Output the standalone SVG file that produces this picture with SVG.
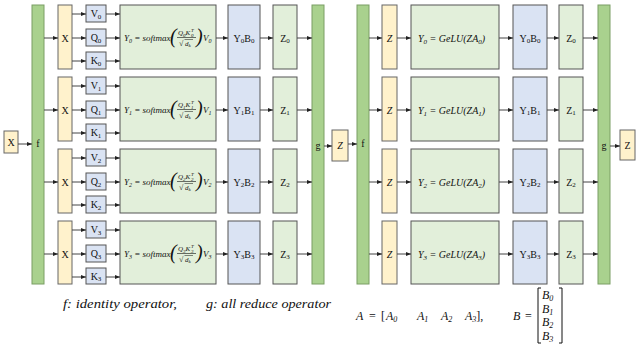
<svg xmlns="http://www.w3.org/2000/svg" width="640" height="348" viewBox="0 0 640 348">
<defs>
<marker id="ah" markerWidth="5" markerHeight="4" refX="5" refY="2" orient="auto" markerUnits="userSpaceOnUse"><path d="M0,0 L5,2 L0,4 z" fill="#222"/></marker>
<style>
.bar{fill:#a9d18e;stroke:#7a9e64;stroke-width:1}
.yel{fill:#fff2cc;stroke:#666;stroke-width:1}
.blu{fill:#dae3f3;stroke:#555;stroke-width:1}
.grn{fill:#e2efda;stroke:#555;stroke-width:1}
.t{font-family:'Liberation Serif','DejaVu Serif',serif;font-size:10px;fill:#111;text-anchor:middle}
.m{font-family:'Liberation Serif','DejaVu Serif',serif;font-style:italic;fill:#111}
.c line{stroke:#444;stroke-width:1;marker-end:url(#ah)}
.s{font-size:7px}
</style>
</defs>
<rect width="640" height="348" fill="#fff"/>

<g id="inX"><rect class="yel" x="4" y="131" width="14" height="22"/><text class="t" x="11" y="145.5">X</text></g>
<g id="f1"><rect class="bar" x="32" y="5" width="12" height="279"/><text class="t" x="38" y="147">f</text></g>
<g id="g1"><rect class="bar" x="312" y="5" width="12" height="279"/><text class="t" x="318" y="149">g</text></g>
<g id="midZ"><rect class="yel" x="332" y="130" width="16" height="31"/><text class="m" x="340" y="149" font-size="10" text-anchor="middle">Z</text></g>
<g id="f2"><rect class="bar" x="357" y="5" width="12" height="279"/><text class="t" x="363" y="147">f</text></g>
<g id="g2"><rect class="bar" x="598" y="5" width="12" height="279"/><text class="t" x="604" y="149">g</text></g>
<g id="outZ"><rect class="yel" x="620" y="130" width="15" height="30"/><text class="t" x="627.5" y="148.5">Z</text></g>

<g id="L0">
<rect class="yel" x="58" y="5" width="14" height="64"/><text class="t" x="65" y="41.5">X</text>
<rect class="blu" x="86" y="5" width="20" height="17"/><text class="t" x="96" y="17">V<tspan class="s" dy="1.5">0</tspan></text>
<rect class="blu" x="86" y="29" width="20" height="17"/><text class="t" x="96" y="41">Q<tspan class="s" dy="1.5">0</tspan></text>
<rect class="blu" x="86" y="52" width="20" height="17"/><text class="t" x="96" y="64">K<tspan class="s" dy="1.5">0</tspan></text>
<rect class="grn" x="120" y="5" width="96" height="64"/>
<text class="m" x="124" y="41" font-size="9">Y<tspan font-size="6" dy="1.5">0</tspan><tspan dy="-1.5"> = softmax</tspan></text>
<text class="m" x="170" y="43" font-size="20" font-style="normal">(</text>
<text class="m" x="178" y="35" font-size="7">Q<tspan font-size="5" dy="1.5">0</tspan><tspan dy="-1.5">K</tspan></text>
<text class="m" x="191" y="36.5" font-size="5">0</text><text class="m" x="191" y="31.5" font-size="5">T</text>
<line x1="177" y1="37.5" x2="196" y2="37.5" stroke="#111" stroke-width="0.6"/>
<text class="m" x="179" y="46" font-size="8" font-style="normal">√</text>
<line x1="184.5" y1="39.5" x2="193" y2="39.5" stroke="#111" stroke-width="0.5"/>
<text class="m" x="185" y="46" font-size="7">d<tspan font-size="5" dy="1">k</tspan></text>
<text class="m" x="196" y="43" font-size="20" font-style="normal">)</text>
<text class="m" x="203" y="41" font-size="9">V<tspan font-size="6" dy="1.5">0</tspan></text>
<rect class="blu" x="228" y="5" width="32" height="64"/><text class="t" x="244" y="41.5">Y<tspan class="s" dy="1.5">0</tspan><tspan dy="-1.5">B</tspan><tspan class="s" dy="1.5">0</tspan></text>
<rect class="grn" x="273" y="5" width="24" height="64"/><text class="t" x="285" y="41.5">Z<tspan class="s" dy="1.5">0</tspan></text>
</g>
<g id="L1">
<rect class="yel" x="58" y="77" width="14" height="64"/><text class="t" x="65" y="113.5">X</text>
<rect class="blu" x="86" y="77" width="20" height="17"/><text class="t" x="96" y="89">V<tspan class="s" dy="1.5">1</tspan></text>
<rect class="blu" x="86" y="101" width="20" height="17"/><text class="t" x="96" y="113">Q<tspan class="s" dy="1.5">1</tspan></text>
<rect class="blu" x="86" y="124" width="20" height="17"/><text class="t" x="96" y="136">K<tspan class="s" dy="1.5">1</tspan></text>
<rect class="grn" x="120" y="77" width="96" height="64"/>
<text class="m" x="124" y="113" font-size="9">Y<tspan font-size="6" dy="1.5">1</tspan><tspan dy="-1.5"> = softmax</tspan></text>
<text class="m" x="170" y="115" font-size="20" font-style="normal">(</text>
<text class="m" x="178" y="107" font-size="7">Q<tspan font-size="5" dy="1.5">1</tspan><tspan dy="-1.5">K</tspan></text>
<text class="m" x="191" y="108.5" font-size="5">1</text><text class="m" x="191" y="103.5" font-size="5">T</text>
<line x1="177" y1="109.5" x2="196" y2="109.5" stroke="#111" stroke-width="0.6"/>
<text class="m" x="179" y="118" font-size="8" font-style="normal">√</text>
<line x1="184.5" y1="111.5" x2="193" y2="111.5" stroke="#111" stroke-width="0.5"/>
<text class="m" x="185" y="118" font-size="7">d<tspan font-size="5" dy="1">k</tspan></text>
<text class="m" x="196" y="115" font-size="20" font-style="normal">)</text>
<text class="m" x="203" y="113" font-size="9">V<tspan font-size="6" dy="1.5">1</tspan></text>
<rect class="blu" x="228" y="77" width="32" height="64"/><text class="t" x="244" y="113.5">Y<tspan class="s" dy="1.5">1</tspan><tspan dy="-1.5">B</tspan><tspan class="s" dy="1.5">1</tspan></text>
<rect class="grn" x="273" y="77" width="24" height="64"/><text class="t" x="285" y="113.5">Z<tspan class="s" dy="1.5">1</tspan></text>
</g>
<g id="L2">
<rect class="yel" x="58" y="149" width="14" height="64"/><text class="t" x="65" y="185.5">X</text>
<rect class="blu" x="86" y="149" width="20" height="17"/><text class="t" x="96" y="161">V<tspan class="s" dy="1.5">2</tspan></text>
<rect class="blu" x="86" y="173" width="20" height="17"/><text class="t" x="96" y="185">Q<tspan class="s" dy="1.5">2</tspan></text>
<rect class="blu" x="86" y="196" width="20" height="17"/><text class="t" x="96" y="208">K<tspan class="s" dy="1.5">2</tspan></text>
<rect class="grn" x="120" y="149" width="96" height="64"/>
<text class="m" x="124" y="185" font-size="9">Y<tspan font-size="6" dy="1.5">2</tspan><tspan dy="-1.5"> = softmax</tspan></text>
<text class="m" x="170" y="187" font-size="20" font-style="normal">(</text>
<text class="m" x="178" y="179" font-size="7">Q<tspan font-size="5" dy="1.5">2</tspan><tspan dy="-1.5">K</tspan></text>
<text class="m" x="191" y="180.5" font-size="5">2</text><text class="m" x="191" y="175.5" font-size="5">T</text>
<line x1="177" y1="181.5" x2="196" y2="181.5" stroke="#111" stroke-width="0.6"/>
<text class="m" x="179" y="190" font-size="8" font-style="normal">√</text>
<line x1="184.5" y1="183.5" x2="193" y2="183.5" stroke="#111" stroke-width="0.5"/>
<text class="m" x="185" y="190" font-size="7">d<tspan font-size="5" dy="1">k</tspan></text>
<text class="m" x="196" y="187" font-size="20" font-style="normal">)</text>
<text class="m" x="203" y="185" font-size="9">V<tspan font-size="6" dy="1.5">2</tspan></text>
<rect class="blu" x="228" y="149" width="32" height="64"/><text class="t" x="244" y="185.5">Y<tspan class="s" dy="1.5">2</tspan><tspan dy="-1.5">B</tspan><tspan class="s" dy="1.5">2</tspan></text>
<rect class="grn" x="273" y="149" width="24" height="64"/><text class="t" x="285" y="185.5">Z<tspan class="s" dy="1.5">2</tspan></text>
</g>
<g id="L3">
<rect class="yel" x="58" y="221" width="14" height="63"/><text class="t" x="65" y="257.5">X</text>
<rect class="blu" x="86" y="221" width="20" height="17"/><text class="t" x="96" y="233">V<tspan class="s" dy="1.5">3</tspan></text>
<rect class="blu" x="86" y="245" width="20" height="17"/><text class="t" x="96" y="257">Q<tspan class="s" dy="1.5">3</tspan></text>
<rect class="blu" x="86" y="268" width="20" height="16"/><text class="t" x="96" y="279.5">K<tspan class="s" dy="1.5">3</tspan></text>
<rect class="grn" x="120" y="221" width="96" height="63"/>
<text class="m" x="124" y="257" font-size="9">Y<tspan font-size="6" dy="1.5">3</tspan><tspan dy="-1.5"> = softmax</tspan></text>
<text class="m" x="170" y="259" font-size="20" font-style="normal">(</text>
<text class="m" x="178" y="251" font-size="7">Q<tspan font-size="5" dy="1.5">3</tspan><tspan dy="-1.5">K</tspan></text>
<text class="m" x="191" y="252.5" font-size="5">3</text><text class="m" x="191" y="247.5" font-size="5">T</text>
<line x1="177" y1="253.5" x2="196" y2="253.5" stroke="#111" stroke-width="0.6"/>
<text class="m" x="179" y="262" font-size="8" font-style="normal">√</text>
<line x1="184.5" y1="255.5" x2="193" y2="255.5" stroke="#111" stroke-width="0.5"/>
<text class="m" x="185" y="262" font-size="7">d<tspan font-size="5" dy="1">k</tspan></text>
<text class="m" x="196" y="259" font-size="20" font-style="normal">)</text>
<text class="m" x="203" y="257" font-size="9">V<tspan font-size="6" dy="1.5">3</tspan></text>
<rect class="blu" x="228" y="221" width="32" height="63"/><text class="t" x="244" y="257.5">Y<tspan class="s" dy="1.5">3</tspan><tspan dy="-1.5">B</tspan><tspan class="s" dy="1.5">3</tspan></text>
<rect class="grn" x="273" y="221" width="24" height="63"/><text class="t" x="285" y="257.5">Z<tspan class="s" dy="1.5">3</tspan></text>
</g>

<g id="R0">
<rect class="yel" x="382" y="5" width="15" height="64"/><text class="m" x="389.5" y="41.5" font-size="10" text-anchor="middle">Z</text>
<rect class="grn" x="411" y="5" width="88" height="64"/>
<text class="m" x="418" y="41.5" font-size="10">Y<tspan font-size="7" dy="2">0</tspan><tspan dy="-2"> = GeLU(ZA</tspan><tspan font-size="7" dy="2">0</tspan><tspan dy="-2">)</tspan></text>
<rect class="blu" x="513" y="5" width="34" height="64"/><text class="t" x="530" y="41.5">Y<tspan class="s" dy="1.5">0</tspan><tspan dy="-1.5">B</tspan><tspan class="s" dy="1.5">0</tspan></text>
<rect class="grn" x="559" y="5" width="24" height="64"/><text class="t" x="571" y="41.5">Z<tspan class="s" dy="1.5">0</tspan></text>
</g>
<g id="R1">
<rect class="yel" x="382" y="77" width="15" height="64"/><text class="m" x="389.5" y="113.5" font-size="10" text-anchor="middle">Z</text>
<rect class="grn" x="411" y="77" width="88" height="64"/>
<text class="m" x="418" y="113.5" font-size="10">Y<tspan font-size="7" dy="2">1</tspan><tspan dy="-2"> = GeLU(ZA</tspan><tspan font-size="7" dy="2">1</tspan><tspan dy="-2">)</tspan></text>
<rect class="blu" x="513" y="77" width="34" height="64"/><text class="t" x="530" y="113.5">Y<tspan class="s" dy="1.5">1</tspan><tspan dy="-1.5">B</tspan><tspan class="s" dy="1.5">1</tspan></text>
<rect class="grn" x="559" y="77" width="24" height="64"/><text class="t" x="571" y="113.5">Z<tspan class="s" dy="1.5">1</tspan></text>
</g>
<g id="R2">
<rect class="yel" x="382" y="149" width="15" height="64"/><text class="m" x="389.5" y="185.5" font-size="10" text-anchor="middle">Z</text>
<rect class="grn" x="411" y="149" width="88" height="64"/>
<text class="m" x="418" y="185.5" font-size="10">Y<tspan font-size="7" dy="2">2</tspan><tspan dy="-2"> = GeLU(ZA</tspan><tspan font-size="7" dy="2">2</tspan><tspan dy="-2">)</tspan></text>
<rect class="blu" x="513" y="149" width="34" height="64"/><text class="t" x="530" y="185.5">Y<tspan class="s" dy="1.5">2</tspan><tspan dy="-1.5">B</tspan><tspan class="s" dy="1.5">2</tspan></text>
<rect class="grn" x="559" y="149" width="24" height="64"/><text class="t" x="571" y="185.5">Z<tspan class="s" dy="1.5">2</tspan></text>
</g>
<g id="R3">
<rect class="yel" x="382" y="221" width="15" height="63"/><text class="m" x="389.5" y="257.5" font-size="10" text-anchor="middle">Z</text>
<rect class="grn" x="411" y="221" width="88" height="63"/>
<text class="m" x="418" y="257.5" font-size="10">Y<tspan font-size="7" dy="2">3</tspan><tspan dy="-2"> = GeLU(ZA</tspan><tspan font-size="7" dy="2">3</tspan><tspan dy="-2">)</tspan></text>
<rect class="blu" x="513" y="221" width="34" height="63"/><text class="t" x="530" y="257.5">Y<tspan class="s" dy="1.5">3</tspan><tspan dy="-1.5">B</tspan><tspan class="s" dy="1.5">3</tspan></text>
<rect class="grn" x="559" y="221" width="24" height="63"/><text class="t" x="571" y="257.5">Z<tspan class="s" dy="1.5">3</tspan></text>
</g>

<g id="connectors" class="c">
<line x1="18" y1="144" x2="32" y2="144"/>
<line x1="324" y1="146" x2="332" y2="146"/>
<line x1="348" y1="144" x2="357" y2="144"/>
<line x1="610" y1="146" x2="620" y2="146"/>
<line x1="44" y1="38" x2="58" y2="38"/><line x1="72" y1="14" x2="86" y2="14"/><line x1="72" y1="38" x2="86" y2="38"/><line x1="72" y1="61" x2="86" y2="61"/>
<line x1="106" y1="14" x2="120" y2="14"/><line x1="106" y1="38" x2="120" y2="38"/><line x1="106" y1="61" x2="120" y2="61"/>
<line x1="216" y1="38" x2="228" y2="38"/><line x1="260" y1="38" x2="273" y2="38"/><line x1="297" y1="38" x2="312" y2="38"/>
<line x1="44" y1="110" x2="58" y2="110"/><line x1="72" y1="86" x2="86" y2="86"/><line x1="72" y1="110" x2="86" y2="110"/><line x1="72" y1="133" x2="86" y2="133"/>
<line x1="106" y1="86" x2="120" y2="86"/><line x1="106" y1="110" x2="120" y2="110"/><line x1="106" y1="133" x2="120" y2="133"/>
<line x1="216" y1="110" x2="228" y2="110"/><line x1="260" y1="110" x2="273" y2="110"/><line x1="297" y1="110" x2="312" y2="110"/>
<line x1="44" y1="182" x2="58" y2="182"/><line x1="72" y1="158" x2="86" y2="158"/><line x1="72" y1="182" x2="86" y2="182"/><line x1="72" y1="205" x2="86" y2="205"/>
<line x1="106" y1="158" x2="120" y2="158"/><line x1="106" y1="182" x2="120" y2="182"/><line x1="106" y1="205" x2="120" y2="205"/>
<line x1="216" y1="182" x2="228" y2="182"/><line x1="260" y1="182" x2="273" y2="182"/><line x1="297" y1="182" x2="312" y2="182"/>
<line x1="44" y1="254" x2="58" y2="254"/><line x1="72" y1="230" x2="86" y2="230"/><line x1="72" y1="254" x2="86" y2="254"/><line x1="72" y1="277" x2="86" y2="277"/>
<line x1="106" y1="230" x2="120" y2="230"/><line x1="106" y1="254" x2="120" y2="254"/><line x1="106" y1="277" x2="120" y2="277"/>
<line x1="216" y1="254" x2="228" y2="254"/><line x1="260" y1="254" x2="273" y2="254"/><line x1="297" y1="254" x2="312" y2="254"/>
<line x1="369" y1="38" x2="382" y2="38"/><line x1="397" y1="38" x2="411" y2="38"/><line x1="499" y1="38" x2="513" y2="38"/><line x1="547" y1="38" x2="559" y2="38"/><line x1="583" y1="38" x2="598" y2="38"/>
<line x1="369" y1="110" x2="382" y2="110"/><line x1="397" y1="110" x2="411" y2="110"/><line x1="499" y1="110" x2="513" y2="110"/><line x1="547" y1="110" x2="559" y2="110"/><line x1="583" y1="110" x2="598" y2="110"/>
<line x1="369" y1="182" x2="382" y2="182"/><line x1="397" y1="182" x2="411" y2="182"/><line x1="499" y1="182" x2="513" y2="182"/><line x1="547" y1="182" x2="559" y2="182"/><line x1="583" y1="182" x2="598" y2="182"/>
<line x1="369" y1="254" x2="382" y2="254"/><line x1="397" y1="254" x2="411" y2="254"/><line x1="499" y1="254" x2="513" y2="254"/><line x1="547" y1="254" x2="559" y2="254"/><line x1="583" y1="254" x2="598" y2="254"/>
</g>

<g id="notes">
<text class="m" x="63" y="308" font-size="12" textLength="114" lengthAdjust="spacingAndGlyphs">f: identity operator,</text>
<text class="m" x="206" y="308" font-size="12" textLength="125" lengthAdjust="spacingAndGlyphs">g: all reduce operator</text>
<text class="m" font-size="12" y="320"><tspan x="356">A</tspan><tspan x="369" font-style="normal">=</tspan><tspan x="381" font-style="normal">[</tspan><tspan x="386">A</tspan><tspan font-size="8" dy="2">0</tspan><tspan x="417" dy="-2">A</tspan><tspan font-size="8" dy="2">1</tspan><tspan x="441" dy="-2">A</tspan><tspan font-size="8" dy="2">2</tspan><tspan x="465" dy="-2">A</tspan><tspan font-size="8" dy="2">3</tspan><tspan dy="-2" font-style="normal">],</tspan></text>
<text class="m" font-size="12" y="320"><tspan x="513">B</tspan><tspan x="525" font-style="normal">=</tspan></text>
<path d="M541,288 h-3 v55 h3 M559,288 h3 v55 h-3" fill="none" stroke="#111" stroke-width="1"/>
<text class="m" font-size="12" x="542" y="299">B<tspan font-size="8" dy="2">0</tspan></text>
<text class="m" font-size="12" x="542" y="312.5">B<tspan font-size="8" dy="2">1</tspan></text>
<text class="m" font-size="12" x="542" y="326">B<tspan font-size="8" dy="2">2</tspan></text>
<text class="m" font-size="12" x="542" y="339.5">B<tspan font-size="8" dy="2">3</tspan></text>
</g>
</svg>
